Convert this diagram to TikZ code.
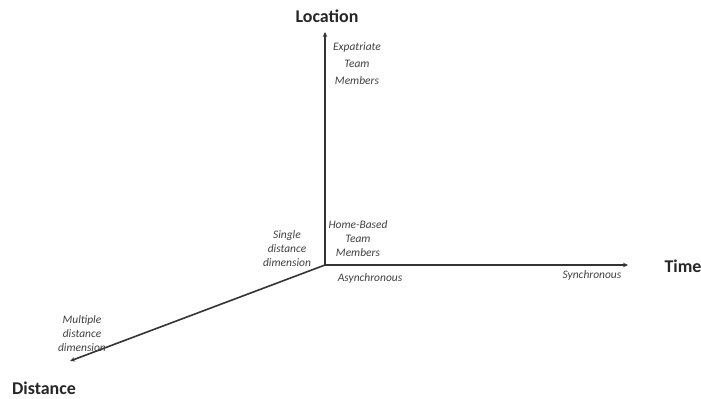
\documentclass[tikz,border=0pt]{standalone}
\usepackage{fontspec}
\setmainfont{Carlito}
\usetikzlibrary{arrows.meta}
\begin{document}
\begin{tikzpicture}[x=1bp,y=-1bp,
  axis/.style={draw=black!80, line width=1.6bp, -{Stealth[length=5bp,width=4.5bp]}},
  title/.style={font=\fontsize{18}{20}\selectfont\bfseries, text=black!85, inner sep=0pt},
  note/.style={font=\fontsize{11.5}{14}\selectfont\itshape, text=black!75, align=center, inner sep=0pt}]
\useasboundingbox (0,0) rectangle (701,398);
\coordinate (o) at (325,265);
\coordinate (top) at (325,32);
\coordinate (right) at (628,265);
\coordinate (left) at (70,361);
\draw[axis] (o) -- (top);
\draw[axis] (o) -- (right);
\draw[axis] (o) -- (left);
\node[title] (loc) at (327,16) {Location};
\node[title] (time) at (683,266) {Time};
\node[title] (dist) at (44,388) {Distance};
\node[note, font=\fontsize{11.5}{17}\selectfont\itshape] (exp) at (357,64) {Expatriate\\Team\\Members};
\node[note] (home) at (358,239) {Home-Based\\Team\\Members};
\node[note] (async) at (370,278) {Asynchronous};
\node[note] (sync) at (592,275) {Synchronous};
\node[note] (single) at (287,249) {Single\\distance\\dimension};
\node[note] (multi) at (82,334) {Multiple\\distance\\dimension};
\end{tikzpicture}
\end{document}
